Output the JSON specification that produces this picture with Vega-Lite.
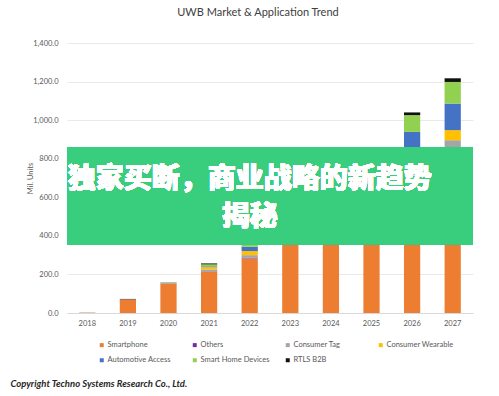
{
  "$schema": "https://vega.github.io/schema/vega-lite/v6.json",
  "width": 406,
  "height": 270,
  "autosize": {"type": "none"},
  "padding": {"left": 67, "top": 43, "right": 26, "bottom": 83},
  "background": "white",
  "title": {"text": "UWB Market & Application Trend", "font": "Lato", "fontSize": 11, "fontWeight": "normal", "color": "#404040", "anchor": "middle", "dx": -12, "offset": 21},
  "config": {
    "view": {"stroke": null},
    "font": "Lato",
    "axisY": {
      "titleFontSize": 7.5, "titleFontWeight": "normal", "titleColor": "#595959", "titlePadding": -2,
      "format": ",.1f", "labelOverlap": false,
      "labelFontSize": 7.5, "labelColor": "#595959", "ticks": false, "domain": false, "labelPadding": 9,
      "gridColor": "#e3e3e3", "gridWidth": 0.8
    },
    "axisX": {
      "labelAngle": 0, "labelFontSize": 7.5, "labelColor": "#595959", "ticks": false, "labelPadding": 6,
      "domainColor": "#d9d9d9", "grid": false,
      "titleFont": "Lato", "titleFontSize": 9.5, "titleFontWeight": "bold", "titleFontStyle": "italic", "titleColor": "#262626",
      "titleAnchor": "start", "titleAlign": "left", "titleBaseline": "alphabetic", "titleX": -57, "titleY": 73
    }
  },
  "resolve": {"axis": {"x": "independent", "y": "independent"}},
  "datasets": {
    "categories": [
      {"category": "Smartphone", "rank": 1},
      {"category": "Others", "rank": 2},
      {"category": "Consumer Tag", "rank": 3},
      {"category": "Consumer Wearable", "rank": 4},
      {"category": "Automotive Access", "rank": 5},
      {"category": "Smart Home Devices", "rank": 6},
      {"category": "RTLS B2B", "rank": 7}
    ]
  },
  "data": {"values": [
    {"year": "2018", "category": "Smartphone", "units": 1},
    {"year": "2018", "category": "Consumer Tag", "units": 2},
    {"year": "2019", "category": "Smartphone", "units": 70},
    {"year": "2019", "category": "Others", "units": 1},
    {"year": "2019", "category": "RTLS B2B", "units": 2},
    {"year": "2020", "category": "Smartphone", "units": 151},
    {"year": "2020", "category": "Others", "units": 1},
    {"year": "2020", "category": "Consumer Tag", "units": 1},
    {"year": "2020", "category": "Consumer Wearable", "units": 1},
    {"year": "2020", "category": "Smart Home Devices", "units": 1},
    {"year": "2020", "category": "RTLS B2B", "units": 2},
    {"year": "2021", "category": "Smartphone", "units": 214},
    {"year": "2021", "category": "Others", "units": 2},
    {"year": "2021", "category": "Consumer Tag", "units": 10},
    {"year": "2021", "category": "Consumer Wearable", "units": 12},
    {"year": "2021", "category": "Automotive Access", "units": 4},
    {"year": "2021", "category": "Smart Home Devices", "units": 10},
    {"year": "2021", "category": "RTLS B2B", "units": 5},
    {"year": "2022", "category": "Smartphone", "units": 283},
    {"year": "2022", "category": "Others", "units": 4},
    {"year": "2022", "category": "Consumer Tag", "units": 13},
    {"year": "2022", "category": "Consumer Wearable", "units": 21},
    {"year": "2022", "category": "Automotive Access", "units": 23},
    {"year": "2022", "category": "Smart Home Devices", "units": 18},
    {"year": "2022", "category": "RTLS B2B", "units": 7},
    {"year": "2023", "category": "Smartphone", "units": 378},
    {"year": "2023", "category": "Others", "units": 8},
    {"year": "2023", "category": "Consumer Tag", "units": 18},
    {"year": "2023", "category": "Consumer Wearable", "units": 20},
    {"year": "2023", "category": "Automotive Access", "units": 43},
    {"year": "2023", "category": "Smart Home Devices", "units": 35},
    {"year": "2023", "category": "RTLS B2B", "units": 6},
    {"year": "2024", "category": "Smartphone", "units": 490},
    {"year": "2024", "category": "Others", "units": 10},
    {"year": "2024", "category": "Consumer Tag", "units": 24},
    {"year": "2024", "category": "Consumer Wearable", "units": 26},
    {"year": "2024", "category": "Automotive Access", "units": 69},
    {"year": "2024", "category": "Smart Home Devices", "units": 43},
    {"year": "2024", "category": "RTLS B2B", "units": 10},
    {"year": "2025", "category": "Smartphone", "units": 600},
    {"year": "2025", "category": "Others", "units": 21},
    {"year": "2025", "category": "Consumer Tag", "units": 30},
    {"year": "2025", "category": "Consumer Wearable", "units": 35},
    {"year": "2025", "category": "Automotive Access", "units": 90},
    {"year": "2025", "category": "Smart Home Devices", "units": 60},
    {"year": "2025", "category": "RTLS B2B", "units": 12},
    {"year": "2026", "category": "Smartphone", "units": 710},
    {"year": "2026", "category": "Others", "units": 25},
    {"year": "2026", "category": "Consumer Tag", "units": 38},
    {"year": "2026", "category": "Consumer Wearable", "units": 45},
    {"year": "2026", "category": "Automotive Access", "units": 121},
    {"year": "2026", "category": "Smart Home Devices", "units": 87},
    {"year": "2026", "category": "RTLS B2B", "units": 14},
    {"year": "2027", "category": "Smartphone", "units": 818},
    {"year": "2027", "category": "Others", "units": 35},
    {"year": "2027", "category": "Consumer Tag", "units": 43},
    {"year": "2027", "category": "Consumer Wearable", "units": 52},
    {"year": "2027", "category": "Automotive Access", "units": 138},
    {"year": "2027", "category": "Smart Home Devices", "units": 112},
    {"year": "2027", "category": "RTLS B2B", "units": 19}
  ]},
  "layer": [
    {
      "transform": [
        {"lookup": "category", "from": {"data": {"name": "categories"}, "key": "category", "fields": ["rank"]}}
      ],
      "mark": {"type": "bar"},
      "encoding": {
        "x": {
          "field": "year", "type": "ordinal",
          "scale": {"paddingInner": 0.6, "paddingOuter": 0.3},
          "title": "Copyright Techno Systems Research Co., Ltd."
        },
        "y": {
          "field": "units", "type": "quantitative", "stack": "zero",
          "scale": {"domain": [0, 1400]},
          "title": "Mil. Units",
          "axis": {"values": [0, 200, 400, 600, 800, 1000, 1200, 1400]}
        },
        "order": {"field": "rank", "type": "quantitative", "sort": "ascending"},
        "color": {
          "field": "category", "type": "nominal",
          "sort": ["Smartphone", "Others", "Consumer Tag", "Consumer Wearable", "Automotive Access", "Smart Home Devices", "RTLS B2B"],
          "scale": {
            "domain": ["Smartphone", "Others", "Consumer Tag", "Consumer Wearable", "Automotive Access", "Smart Home Devices", "RTLS B2B"],
            "range": ["#ED7D31", "#7030A0", "#A5A5A5", "#FFC000", "#4472C4", "#92D050", "#111111"]
          },
          "legend": {
            "orient": "none", "legendX": 31, "legendY": 298, "direction": "horizontal", "columns": 4, "title": null,
            "symbolType": "square", "symbolSize": 16, "symbolStrokeWidth": 0, "labelFontSize": 7.5, "labelColor": "#595959",
            "columnPadding": 14, "rowPadding": 6.5, "gridAlign": "all", "labelOffset": 2
          }
        }
      }
    },
    {
      "mark": {"type": "rect", "color": "#3acd7e", "opacity": 0.8},
      "encoding": {"y": {"datum": 860, "axis": null}, "y2": {"datum": 357}}
    },
    {
      "mark": {"type": "text", "font": "Noto Sans CJK SC", "fontWeight": 900, "fontSize": 28, "color": "white", "align": "center", "baseline": "middle"},
      "encoding": {"x": {"datum": "2022", "axis": null}, "y": {"datum": 689, "axis": null}, "text": {"value": "独家买断，商业战略的新趋势"}}
    },
    {
      "mark": {"type": "text", "font": "Noto Sans CJK SC", "fontWeight": 900, "fontSize": 28, "color": "white", "align": "center", "baseline": "middle"},
      "encoding": {"x": {"datum": "2022", "axis": null}, "y": {"datum": 495, "axis": null}, "text": {"value": "揭秘"}}
    }
  ]
}
